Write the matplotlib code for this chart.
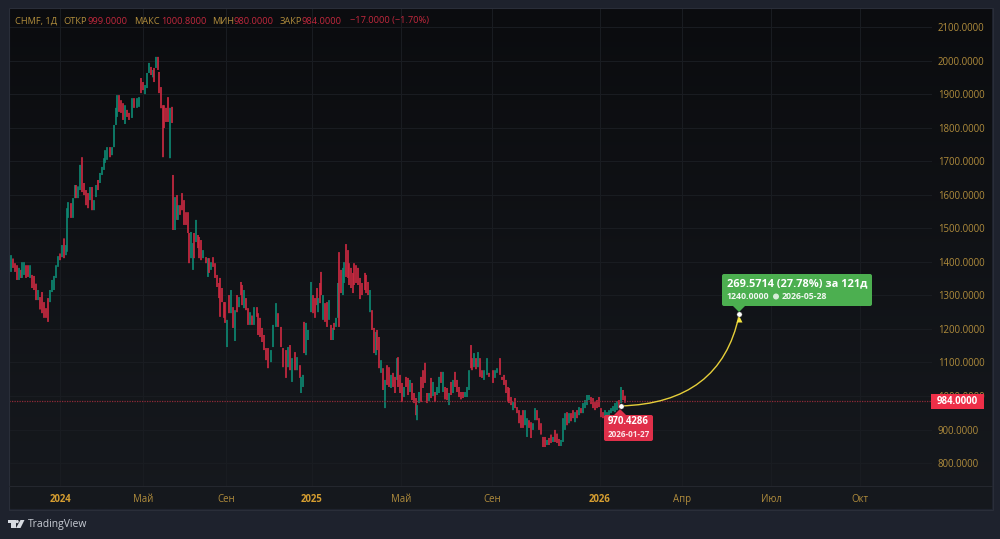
import numpy as np
import matplotlib
matplotlib.use("Agg")
import matplotlib.pyplot as plt
from matplotlib.patches import FancyBboxPatch, Polygon, PathPatch, Circle, Rectangle
from matplotlib.path import Path

plt.rcParams['font.family'] = ['Open Sans', 'DejaVu Sans']

# session number, high, low of each sampled daily bar
sessions = [0,2,4,6,8,10,12,13,15,17,19,21,23,25,27,29,31,33,35,37,39,41,43,45,47,49,51,53,55,57,58,59,62,64,66,67,69,71,73,75,77,79,81,83,85,87,89,91,93,95,96,98,
 101,103,105,107,108,110,112,114,116,118,120,123,125,128,130,132,134,136,138,140,142,144,145,147,149,150,152,154,155,157,159,161,163,
 164,166,168,169,171,173,175,177,179,180,182,184,185,187,189,190,192,194,197,199,200,202,204,206,208,210,211,213,215,216,218,220,222,224,226,228,230,232,233,235,237,239,241,243,245,248,249,251,253,255,257,259,262,264,267,269,272,274,277,279,281,283,286,288,291,292,294,295,297,299,
 302,304,306,308,309,311,312,314,316,318,320,322,324,325,327,329,330,332,334,335,337,339,340,342,344,345,347,349,351,353,356,357,359,361,363,365,367,368,370,372,374,376,378,380,382,384,386,388,389,
 391,393,395,397,399,401,403,405,407,408,410,412,414,416,418,420,422,424,426,428,430,432,434,436,438,440,442,444,446,448,450,452,454,456,458,460,462,463,465,467,469,471,473,475,478,480,484,486,488,491,493,495,497,499,
 500,502,504,506,508,510,512,514,516,518,520,522,524,526,528,530,532,534,536,538,540,542,544,546,548,550,552,554,556,558,560,562,564,566,568,570,572,574,576,578,580,582,584,586,588,590,592,594,596,598,600,602,604,606,608,610,612,614,616]
highs = [1435,1420,1410,1396,1390,1382,1376,1399,1399,1390,1390,1390,1361,1358,1335,1316,1295,1310,1280,1262,1292,1316,1346,1358,1390,1417,1425,1450,1470,1450,1560,1578,1575,1590,1629,1629,1625,1689,1712,1635,1614,1605,1623,1623,1584,1629,1644,1665,1683,1709,1733,1742,
 1742,1742,1808,1859,1897,1897,1882,1873,1867,1853,1844,1888,1888,1888,1891,1948,1936,1927,1963,1993,1981,1972,1978,2011,2011,1966,1921,1867,1867,1859,1891,1859,1862,
 1659,1593,1599,1569,1569,1605,1584,1548,1548,1486,1489,1456,1486,1525,1480,1474,1465,1435,1414,1411,1411,1399,1414,1396,1361,1337,1352,1322,1280,1280,1227,1301,1316,1265,1256,1301,1295,1340,1331,1316,1292,1262,1250,1240,1265,1265,1247,1233,1203,1182,1143,1143,1137,1212,1277,1247,1206,1143,1137,1146,1152,1113,1131,1116,1092,1057,1063,1221,1218,1197,
 1340,1301,1292,1322,1292,1337,1370,1301,1277,1280,1286,1212,1203,1218,1233,1337,1429,1376,1382,1399,1453,1435,1396,1382,1367,1396,1390,1382,1352,1337,1367,1361,1340,1316,1256,1203,1191,1197,1176,1107,1083,1048,1092,1086,1063,1069,1057,1113,1116,
 1063,1039,1027,1057,1054,1048,1039,1009,994,973,1012,1057,1077,1099,1009,1009,1054,1042,1012,1027,1057,1072,1072,1027,1024,1009,1042,1048,1072,1048,1027,1012,1012,1012,1027,1077,1152,1113,1128,1113,1131,1113,1077,1077,1113,1069,1077,1077,1083,1113,1057,1063,1048,1027,
 1024,997,982,994,967,958,943,958,958,934,928,922,919,964,958,934,919,878,878,869,875,885,878,899,888,872,869,934,949,952,949,949,958,952,958,967,964,979,988,1003,1003,997,994,982,988,997,964,952,958,952,958,964,970,979,985,988,1027,1018,1001]
lows = [1390,1370,1382,1370,1346,1346,1352,1352,1361,1352,1355,1352,1322,1316,1286,1286,1258,1247,1233,1233,1221,1280,1310,1316,1352,1385,1405,1414,1411,1420,1430,1531,1531,1531,1590,1590,1590,1614,1608,1599,1569,1560,1584,1554,1554,1593,1614,1635,1659,1674,1695,1704,
 1712,1718,1742,1808,1832,1847,1844,1823,1811,1832,1823,1829,1859,1859,1862,1903,1912,1900,1918,1963,1957,1950,1936,1978,1972,1903,1858,1712,1799,1817,1817,1709,1814,
 1495,1495,1525,1525,1540,1554,1510,1510,1486,1396,1411,1376,1411,1459,1441,1411,1405,1411,1396,1355,1367,1376,1385,1352,1325,1292,1236,1280,1233,1218,1146,1247,1247,1203,1164,1250,1265,1301,1271,1262,1256,1212,1212,1212,1212,1236,1182,1176,1161,1137,1107,1083,1101,1146,1206,1206,1146,1086,1054,1086,1077,1042,1077,1077,1054,1009,1027,1128,1122,1167,
 1250,1247,1233,1271,1250,1277,1301,1227,1221,1206,1227,1167,1167,1197,1206,1233,1206,1307,1301,1337,1355,1352,1331,1322,1307,1331,1337,1331,1289,1301,1316,1307,1301,1250,1197,1128,1122,1137,1083,1069,1018,964,1033,1027,1024,1027,1009,1048,1027,
 1009,982,997,1027,1003,1012,988,979,943,928,979,982,1024,1039,979,985,994,1000,982,1003,1009,1039,1012,990,988,973,1003,1009,1027,1012,997,990,994,997,997,1018,1083,1077,1086,1080,1086,1057,1054,1048,1063,1057,1039,1054,1069,1063,1048,1033,1009,982,
 979,973,958,964,949,919,905,905,913,878,905,875,899,928,928,899,885,848,848,854,854,860,863,863,860,851,851,863,899,913,919,925,934,922,934,943,949,949,964,973,988,976,964,958,964,967,937,934,937,937,943,949,955,952,958,964,979,988,980]
green_sessions = {2,10,13,15,21,29,41,43,45,47,49,53,57,58,59,64,66,69,71,81,85,87,91,93,95,96,98,103,105,107,108,116,123,128,130,136,138,140,144,147,161,
 166,169,182,184,187,194,199,202,218,222,226,230,235,241,245,262,264,267,279,283,288,292,294,297,299,302,309,314,320,324,327,329,334,335,361,367,372,376,382,388,
 395,401,408,410,420,424,428,430,434,440,444,456,458,460,465,469,475,478,486,488,504,516,518,524,526,538,544,552,554,556,560,566,570,574,576,578,580,596,598,600,602,604,606,608,612}
colors = ['#0d8a74' if s in green_sessions else '#cf2a42' for s in sessions]

yticks = list(range(800, 2200, 100))
ytick_labels = [f"{v}.0000" for v in yticks]
xtick_sessions = [51.3,133.7,216.7,302.7,392.3,483.3,591,673,762,851]
xtick_labels = ["2024","Май","Сен","2025","Май","Сен","2026","Апр","Июл","Окт"]
year_labels = {"2024","2025","2026"}
last_close = 984.0
start_session, start_price = 611.5, 970.4286
end_session, end_price = 730, 1240.0
ctrl_session, ctrl_price = 711.5, 978

GOLD = '#b08c3c'
W, H = 1000, 539
fig = plt.figure(figsize=(10, 5.39), dpi=100, facecolor='#1e222d')

def px_axes(l, t, r, b, z):
    return fig.add_axes([l/W, 1-b/H, (r-l)/W, (b-t)/H], zorder=z)

bg = px_axes(9, 8, 992, 509, 0)
bg.imshow(np.linspace(0, 1, 256).reshape(-1, 1), aspect='auto', extent=(0, 1, 0, 1),
          cmap=matplotlib.colors.LinearSegmentedColormap.from_list('p', ['#0b0c0f', '#16191e']))
bg.axis('off')

ax = px_axes(9, 8, 932, 486, 1)
ax.patch.set_alpha(0)
ax.set_xlim(0, 923)
ax.set_ylim(731.8, 2156.7)
for s in ax.spines.values():
    s.set_visible(False)
ax.yaxis.tick_right()
ax.set_yticks(yticks, ytick_labels)
ax.set_xticks(xtick_sessions, xtick_labels)
ax.tick_params(length=0)
ax.tick_params(axis='y', pad=4.2, labelsize=6.9, labelcolor=GOLD)
ax.tick_params(axis='x', pad=5.5, labelsize=6.9, labelcolor=GOLD)
for t in ax.get_xticklabels():
    if t.get_text() in year_labels:
        t.set_fontweight('bold')
        t.set_color('#d69e30')
ax.grid(True, color='#1a1d22', lw=0.7)
ax.set_axisbelow(True)
bars = ax.vlines(sessions, lows, highs, colors=colors, lw=1.2, zorder=3)
bars.set_snap(False)
ax.axhline(last_close, color='#8f2a38', lw=0.9, ls=(0, (1, 1)), zorder=4)

path = Path([(start_session, start_price), (ctrl_session, ctrl_price), (end_session, end_price)],
            [Path.MOVETO, Path.CURVE3, Path.CURVE3])
ax.add_patch(PathPatch(path, fc='none', ec='#e6cf3a', lw=1.0, zorder=5))
ax.plot([end_session], [end_price - 10], marker='^', ms=5, color='#f5e642', mec='none', zorder=6)
ax.plot([end_session, start_session], [end_price + 5, start_price], ls='none', marker='o', ms=3.8,
        mfc='white', mec='#333333', mew=0.3, zorder=7)

ov = fig.add_axes([0, 0, 1, 1], zorder=2)
ov.set_xlim(0, W)
ov.set_ylim(H, 0)
ov.axis('off')
ov.patch.set_alpha(0)

ov.add_patch(Rectangle((8.5, 7.5), 984, 502, fc='none', ec='#2a2e39', lw=0.8))
ov.plot([9, 992], [486, 486], color='#24272e', lw=0.8)

def box(l, t, r, b, c):
    ov.add_patch(FancyBboxPatch((l+2, t+2), r-l-4, b-t-4, boxstyle='round,pad=2,rounding_size=2',
                                fc=c, ec='none', zorder=5))

hdr = [(15, "CHMF, 1Д", GOLD), (63, "ОТКР", GOLD), (88, "999.0000", '#c2283d'),
       (134, "МАКС", GOLD), (161, "1000.8000", '#c2283d'), (212, "МИН", GOLD),
       (234, "980.0000", '#c2283d'), (280, "ЗАКР", GOLD), (302, "984.0000", '#c2283d'),
       (350, "−17.0000 (−1.70%)", '#c2283d')]
for x, s, c in hdr:
    ov.text(x, 21, s, color=c, fontsize=6.7, va='center', ha='left')

ov.add_patch(Rectangle((931, 394), 53, 15, fc='#ee2f48', ec='none', zorder=5))
ov.text(957.5, 401.5, "984.0000", color='white', fontsize=6.9, fontweight='bold', ha='center', va='center', zorder=6)

box(722, 274, 872, 306, '#4caf50')
ov.add_patch(Polygon([(733, 306), (745, 306), (739, 312)], fc='#4caf50', ec='none', zorder=5))
ov.text(727, 283.5, "269.5714 (27.78%) за 121д", color='white', fontsize=7.9, fontweight='bold', va='center', zorder=6)
ov.text(727, 296.5, "1240.0000", color='#f2f7f2', fontsize=6.3, fontweight='bold', va='center', zorder=6)
ov.add_patch(Circle((776, 296.5), 3, fc='#d6ecd7', ec='none', zorder=6))
ov.text(782, 296.5, "2026-05-28", color='#f2f7f2', fontsize=6.3, fontweight='bold', va='center', zorder=6)

box(604, 415, 653, 441, '#e0304a')
ov.add_patch(Polygon([(614, 415), (626, 415), (620, 409)], fc='#e0304a', ec='none', zorder=5))
ov.text(607.5, 422, "970.4286", color='white', fontsize=6.9, fontweight='bold', va='center', zorder=6)
ov.text(607.5, 434.5, "2026-01-27", color='#fbe4e7', fontsize=5.9, fontweight='bold', va='center', zorder=6)

lc = '#d8dbe2'
ov.add_patch(Polygon([(8, 520), (15.5, 520), (15.5, 528), (11, 528), (11, 523), (8, 523)], fc=lc, ec='none'))
ov.add_patch(Circle((17.2, 521.6), 1.6, fc=lc, ec='none'))
ov.add_patch(Polygon([(20.5, 520), (24.5, 520), (20.5, 528), (16, 528)], fc=lc, ec='none'))
ov.text(28, 524.5, "TradingView", color='#c8ccd4', fontsize=7.5, va='center', fontweight='medium')

fig.savefig("out.png", dpi=100, facecolor=fig.get_facecolor())
